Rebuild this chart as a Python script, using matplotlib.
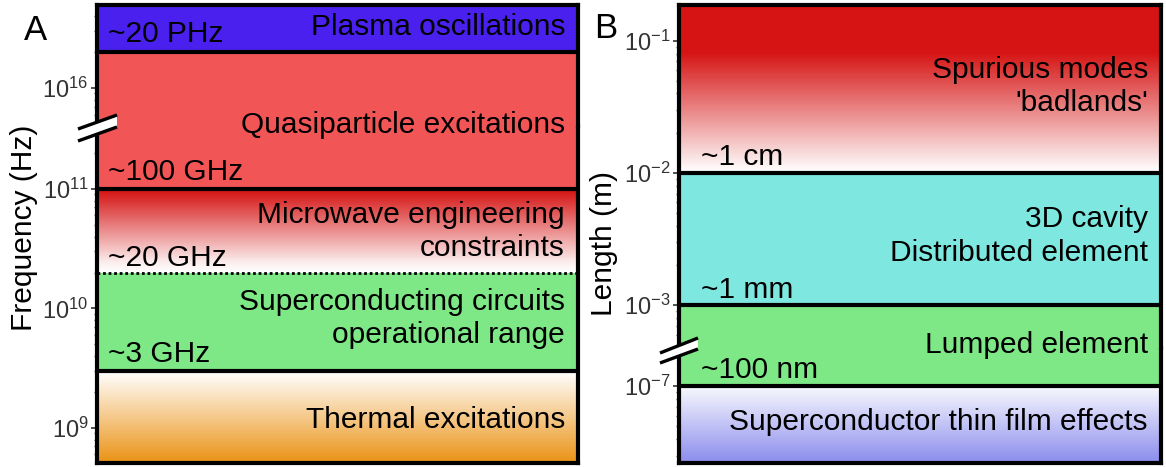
import numpy as np
import matplotlib.pyplot as plt
from matplotlib.colors import LinearSegmentedColormap
from matplotlib.patches import Polygon
from matplotlib.lines import Line2D
from matplotlib.ticker import NullFormatter

plt.rcParams['font.family'] = ['Liberation Sans', 'DejaVu Sans']
plt.rcParams['mathtext.default'] = 'regular'

W, H = 1166, 467

# Panel A: frequency band boundaries (Hz), top to bottom
freq_bounds = [2e16, 1e11, 2e10, 3e9]
freq_marks = ['~20 PHz', '~100 GHz', '~20 GHz', '~3 GHz']
freq_names = ['Plasma oscillations', 'Quasiparticle excitations',
              'Microwave engineering\nconstraints',
              'Superconducting circuits\noperational range',
              'Thermal excitations']

# Panel B: length band boundaries (m), top to bottom
len_bounds = [1e-2, 1e-3, 1e-7]
len_marks = ['~1 cm', '~1 mm', '~100 nm']
len_names = ["Spurious modes\n'badlands'", '3D cavity\nDistributed element',
             'Lumped element', 'Superconductor thin film effects']

PLASMA = '#4a20ee'
QUASI = '#f25555'
GREEN = '#7ee886'
CYAN = '#7ee8e0'

cm_micro = LinearSegmentedColormap.from_list('micro', [(0, '#ffffff'), (0.12, '#fbecec'), (1, '#d41010')])
cm_spur = LinearSegmentedColormap.from_list('spur', [(0, '#ffffff'), (0.05, '#fcf0f0'), (0.72, '#d61414'), (1, '#d61414')])
cm_therm = LinearSegmentedColormap.from_list('therm', [(0, '#ea9215'), (1, '#ffffff')])
cm_film = LinearSegmentedColormap.from_list('film', [(0, '#8a8cec'), (1, '#f8f8fd')])

FS = 21.5


def px_axes(fig, x0, x1, y0, y1):
    return fig.add_axes([x0 / W, 1 - y1 / H, (x1 - x0) / W, (y1 - y0) / H])


def style(ax, lim, top):
    ax.set_yscale('log')
    ax.set_ylim(*lim)
    ax.set_xlim(0, 1)
    ax.set_xticks([])
    ax.yaxis.set_minor_formatter(NullFormatter())
    ax.tick_params(axis='y', which='major', direction='out', length=4, width=1.2,
                   color='#333333', labelsize=17, labelcolor='#333333', pad=2)
    ax.tick_params(axis='y', which='minor', direction='out', length=2.5, width=1,
                   color='#555555')
    for s in ax.spines.values():
        s.set_linewidth(3)
    if top:
        ax.spines['bottom'].set_visible(False)
    else:
        ax.spines['top'].set_visible(False)


def grad(ax, lo, hi, cmap):
    ys = np.logspace(np.log10(lo), np.log10(hi), 200)
    c = np.linspace(0, 1, 199)[:, None]
    ax.pcolormesh([0, 1], ys, c, cmap=cmap, shading='flat', zorder=0.5)


def right_label(ax, logy, s):
    ax.text(0.973, 10 ** logy, s, transform=ax.get_yaxis_transform(), ha='right',
            va='center', fontsize=FS, linespacing=1.25)


def mark(ax, x, y, s, off):
    ax.annotate(s, xy=(x, y), xycoords=ax.get_yaxis_transform(), xytext=(0, off),
                textcoords='offset points', ha='left', va='baseline', fontsize=FS)


def break_mark(fig, up, lo):
    pts = [up[0], up[1], lo[1], lo[0]]
    pts = [(x / W, 1 - y / H) for x, y in pts]
    fig.add_artist(Polygon(pts, closed=True, facecolor='white', edgecolor='none',
                           transform=fig.transFigure, zorder=10))
    for a, b in (up, lo):
        fig.add_artist(Line2D([a[0] / W, b[0] / W], [1 - a[1] / H, 1 - b[1] / H],
                              color='black', lw=2.4, transform=fig.transFigure,
                              zorder=11, solid_capstyle='butt'))


fig = plt.figure(figsize=(W / 100, H / 100), dpi=100)

# ---------------- Panel A ----------------
a_bot = px_axes(fig, 97, 578, 126, 463)
a_top = px_axes(fig, 97, 578, 5, 126)
a_bot_lim = (10 ** 8.707, 10 ** 11.527)
a_top_lim = (10 ** 15.682, 10 ** 16.695)
style(a_bot, a_bot_lim, False)
style(a_top, a_top_lim, True)

a_top.axhspan(freq_bounds[0], a_top_lim[1], color=PLASMA, lw=0)
a_top.axhspan(a_top_lim[0], freq_bounds[0], color=QUASI, lw=0)
a_bot.axhspan(freq_bounds[1], a_bot_lim[1], color=QUASI, lw=0)
grad(a_bot, freq_bounds[2], freq_bounds[1], cm_micro)
a_bot.axhspan(freq_bounds[3], freq_bounds[2], color=GREEN, lw=0)
grad(a_bot, a_bot_lim[0], freq_bounds[3], cm_therm)

a_top.axhline(freq_bounds[0], color='black', lw=3)
a_bot.axhline(freq_bounds[1], color='black', lw=3)
a_bot.axhline(freq_bounds[2], color='black', lw=2, linestyle=(0, (1, 1)))
a_bot.axhline(freq_bounds[3], color='black', lw=3)

mark(a_top, 0.022, freq_bounds[0], freq_marks[0], 7)
mark(a_bot, 0.022, freq_bounds[1], freq_marks[1], 6.5)
mark(a_bot, 0.022, freq_bounds[2], freq_marks[2], 5)
mark(a_bot, 0.022, freq_bounds[3], freq_marks[3], 6.5)

right_label(a_top, 16.51, freq_names[0])
right_label(a_top, 15.69, freq_names[1])
right_label(a_bot, 10.644, freq_names[2])
right_label(a_bot, 9.916, freq_names[3])
right_label(a_bot, 9.067, freq_names[4])

# ---------------- Panel B ----------------
b_bot = px_axes(fig, 679, 1161, 348, 463)
b_top = px_axes(fig, 679, 1161, 5, 348)
b_bot_lim = (10 ** -7.579, 10 ** -6.714)
b_top_lim = (10 ** -3.323, 10 ** -0.729)
style(b_bot, b_bot_lim, False)
style(b_top, b_top_lim, True)

grad(b_top, len_bounds[0], b_top_lim[1], cm_spur)
b_top.axhspan(len_bounds[1], len_bounds[0], color=CYAN, lw=0)
b_top.axhspan(b_top_lim[0], len_bounds[1], color=GREEN, lw=0)
b_bot.axhspan(len_bounds[2], b_bot_lim[1], color=GREEN, lw=0)
grad(b_bot, b_bot_lim[0], len_bounds[2], cm_film)

b_top.axhline(len_bounds[0], color='black', lw=3)
b_top.axhline(len_bounds[1], color='black', lw=3)
b_bot.axhline(len_bounds[2], color='black', lw=3)

mark(b_top, 0.046, len_bounds[0], len_marks[0], 5.5)
mark(b_top, 0.046, len_bounds[1], len_marks[1], 5.5)
mark(b_bot, 0.046, len_bounds[2], len_marks[2], 6)

right_label(b_top, -1.346, len_names[0])
right_label(b_top, -2.477, len_names[1])
right_label(b_top, -3.30, len_names[2])
right_label(b_bot, -7.27, len_names[3])

# axis breaks
break_mark(fig, ((78, 129), (117, 115)), ((78, 141), (117, 127)))
break_mark(fig, ((660, 353), (698, 338)), ((660, 363), (698, 349)))

# axis titles and panel letters
fig.text(24 / W, 1 - 228 / H, 'Frequency (Hz)', rotation=90, ha='center', va='center', fontsize=FS)
fig.text(604 / W, 1 - 243 / H, 'Length (m)', rotation=90, ha='center', va='center', fontsize=FS)
fig.text(35 / W, 1 - 31 / H, 'A', ha='center', va='center', fontsize=25)
fig.text(606 / W, 1 - 29 / H, 'B', ha='center', va='center', fontsize=25)

fig.savefig('out.png', dpi=100, facecolor='white')
